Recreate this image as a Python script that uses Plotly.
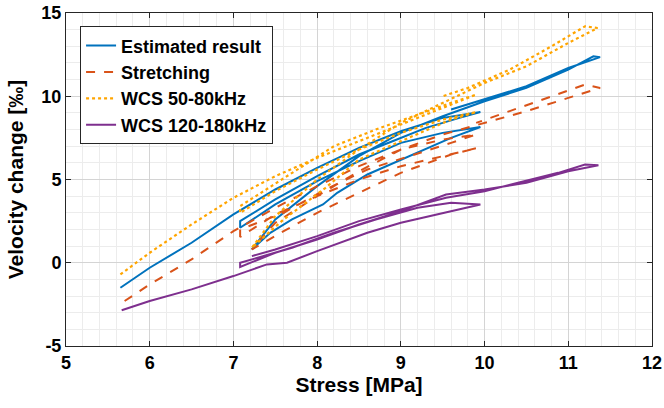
import plotly.graph_objects as go

# Estimated result (blue)
est_x = [5.65, 6.0, 6.5, 7.0, 7.5, 8.0, 8.5, 9.0, 9.5, 9.95,
         9.7, 9.3, 8.9, 8.5, 8.0, 7.5, 7.08,
         7.08, 7.5, 8.0, 8.5, 9.0, 9.5, 9.95,
         9.6, 9.0, 8.6, 8.24, 8.07, 7.7, 7.44, 7.22,
         7.5, 8.0, 8.5, 9.0, 9.5, 10.0, 10.5, 11.0, 11.3,
         11.38, 11.0, 10.5, 10.0, 9.6]
est_y = [-1.5, -0.3, 1.2, 2.9, 4.4, 5.7, 6.9, 7.9, 8.7, 9.05,
         8.7, 8.1, 7.3, 6.5, 5.2, 3.8, 2.5,
         2.1, 3.5, 4.9, 6.1, 7.2, 7.8, 8.15,
         7.5, 6.2, 5.3, 4.2, 3.5, 2.6, 1.8, 0.8,
         2.6, 4.6, 6.4, 7.8, 8.8, 9.7, 10.5, 11.6, 12.4,
         12.35, 11.7, 10.6, 9.8, 9.2]

# Stretching (red dashed)
str_x = [5.7, 6.0, 6.5, 7.0, 7.5, 8.0, 8.5, 9.0, 9.5, 9.9,
         9.6, 9.1, 8.6, 8.1, 7.6, 7.08,
         7.08, 7.5, 8.0, 8.5, 9.0, 9.5, 9.92,
         9.6, 9.0, 8.5, 8.0, 7.6, 7.22,
         7.5, 8.0, 8.5, 9.0, 9.5, 10.0, 10.5, 11.0, 11.38,
         11.2, 10.8, 10.3, 9.9]
str_y = [-2.3, -1.3, 0.2, 1.9, 3.3, 4.6, 5.8, 6.8, 7.4, 7.7,
         7.2, 6.4, 5.6, 4.4, 3.0, 2.0,
         1.55, 2.9, 4.0, 5.0, 5.8, 6.4, 6.9,
         6.5, 5.4, 4.2, 3.0, 1.9, 0.8,
         2.4, 4.0, 5.5, 6.8, 7.7, 8.4, 9.1, 9.9, 10.5,
         10.7, 10.0, 9.1, 8.4]

# WCS 50-80kHz (orange dotted)
wcs1_x = [5.65, 6.0, 6.5, 7.0, 7.5, 8.0, 8.5, 9.0, 9.5, 9.9,
          9.6, 9.2, 8.7, 8.2, 7.7, 7.3, 7.08,
          7.08, 7.5, 8.0, 8.5, 9.0, 9.5, 9.9,
          9.6, 9.0, 8.5, 8.1, 7.6, 7.22,
          7.5, 8.0, 8.5, 9.0, 9.5, 10.0, 10.5, 11.0, 11.35,
          11.2, 10.8, 10.3, 9.8, 9.5]
wcs1_y = [-0.7, 0.6, 2.3, 3.9, 5.2, 6.3, 7.3, 8.3, 9.3, 10.1,
          9.6, 8.9, 8.0, 7.0, 5.4, 4.1, 3.4,
          3.0, 4.3, 5.6, 6.8, 7.8, 8.6, 9.05,
          8.6, 7.3, 6.2, 4.5, 2.6, 0.9,
          2.8, 5.0, 6.8, 8.4, 9.6, 10.8, 11.8, 13.2, 14.1,
          14.2, 13.0, 11.6, 10.5, 10.0]

# WCS 120-180kHz (purple)
wcs2_x = [5.665, 6.0, 6.5, 7.0, 7.4, 7.64, 8.0, 8.6, 9.0, 9.5, 9.95,
          9.6, 9.2, 8.7, 8.2, 7.7, 7.3, 7.08,
          7.08, 7.5, 8.0, 8.5, 9.0, 9.54, 10.0, 10.5, 11.0, 11.36,
          11.2, 10.88, 10.4, 10.0, 9.54, 9.0, 8.5, 8.0, 7.5, 7.22]
wcs2_y = [-2.85, -2.3, -1.6, -0.8, -0.1, 0.0, 0.7, 1.8, 2.4, 3.0, 3.5,
          3.6, 3.3, 2.6, 1.8, 0.9, 0.3, 0.0,
          -0.25, 0.6, 1.4, 2.3, 3.1, 4.1, 4.4, 4.8, 5.5, 5.85,
          5.9, 5.4, 4.8, 4.3, 3.9, 3.2, 2.5, 1.6, 0.8, 0.4]

x_ticks = [5, 6, 7, 8, 9, 10, 11, 12]
y_ticks = [-5, 0, 5, 10, 15]

fig = go.Figure()
fig.add_trace(go.Scatter(x=est_x, y=est_y, mode="lines", name="Estimated result",
                         line=dict(color="#0072BD", width=2)))
fig.add_trace(go.Scatter(x=str_x, y=str_y, mode="lines", name="Stretching",
                         line=dict(color="#D95319", width=2, dash="dash")))
fig.add_trace(go.Scatter(x=wcs1_x, y=wcs1_y, mode="lines", name="WCS 50-80kHz",
                         line=dict(color="#FFA500", width=2.2, dash="dot")))
fig.add_trace(go.Scatter(x=wcs2_x, y=wcs2_y, mode="lines", name="WCS 120-180kHz",
                         line=dict(color="#7E2F8E", width=2)))

font_family = "Liberation Sans, Arial, sans-serif"
axis_common = dict(
    showline=True, linecolor="#262626", linewidth=1, mirror="ticks",
    ticks="inside", ticklen=5, tickcolor="#262626",
    showgrid=True, gridcolor="#d4d4d4", gridwidth=1,
    zeroline=False, automargin=False,
    tickfont=dict(family=font_family, size=18, color="#000"),
)
fig.update_layout(
    width=664, height=408,
    margin=dict(l=66, r=12, t=13, b=62),
    paper_bgcolor="white", plot_bgcolor="white",
    font=dict(family=font_family, color="#000"),
    showlegend=True,
    legend=dict(x=0.024, y=0.96, xanchor="left", yanchor="top",
                bgcolor="white", bordercolor="#262626", borderwidth=1,
                font=dict(family=font_family, size=18, color="#000"),
                tracegroupgap=0, itemwidth=30),
    xaxis=dict(range=[5, 12], tickvals=x_ticks,
               title=dict(text="<b>Stress [MPa]</b>", font=dict(size=21), standoff=2),
               minor=dict(dtick=0.2, showgrid=True, gridcolor="#ececec", ticks=""),
               **axis_common),
    yaxis=dict(range=[-5, 15], tickvals=y_ticks,
               title=dict(text="<b>Velocity change [‰]</b>", font=dict(size=21), standoff=12),
               minor=dict(dtick=1, showgrid=True, gridcolor="#ececec", ticks=""),
               **axis_common),
)
fig.update_xaxes(ticktext=[f"<b>{v}</b>" for v in x_ticks])
fig.update_yaxes(ticktext=[f"<b>{v}</b>" for v in y_ticks])
fig.for_each_trace(lambda t: t.update(name=f"<b>{t.name}</b>"))

fig.write_html("out.html", config={"displayModeBar": False},
               post_script="document.body.style.margin='0';document.body.style.overflow='hidden';")
